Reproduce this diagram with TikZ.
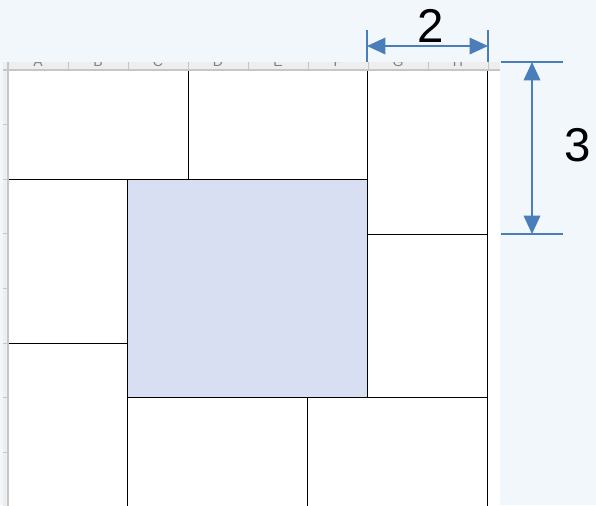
\documentclass[tikz,border=0pt]{standalone}
\usepackage{fontspec}
\setmainfont{Liberation Sans}
\usetikzlibrary{arrows.meta}
\definecolor{pagebg}{HTML}{F2F7FC}
\definecolor{tilefill}{HTML}{D9DFF2}
\definecolor{dimblue}{HTML}{4A7EBB}
\definecolor{headgrey}{HTML}{EEEEEE}
\definecolor{gridgrey}{HTML}{C6C6C6}
\begin{document}
\begin{tikzpicture}[x=0.02cm, y=-0.02cm,
  tile/.style={draw=black, line width=0.45pt},
  dimline/.style={color=dimblue, line width=0.8pt},
  dimarrow/.style={dimline, {Triangle[length=10.5pt,width=9.5pt]}-{Triangle[length=10.5pt,width=9.5pt]}},
  dimlabel/.style={font=\fontsize{27}{30}\selectfont, inner sep=0pt},
  colletter/.style={font=\fontsize{8}{9}\selectfont, text=gray, anchor=base, inner sep=0pt}]
\clip (0,0) rectangle (596,505);
\fill[pagebg] (0,0) rectangle (596,505);
\fill[white] (3,62) rectangle (500,510);
% tiles
\draw[tile] (8,70) rectangle (188,179);
\draw[tile] (188,70) rectangle (367,179);
\draw[tile] (367,70) rectangle (487,234);
\draw[tile] (8,179) rectangle (127,343);
\draw[tile] (8,343) rectangle (127,510);
\draw[tile, fill=tilefill] (127,179) rectangle (367,397);
\draw[tile] (367,234) rectangle (487,397);
\draw[tile] (127,397) rectangle (307,510);
\draw[tile] (307,397) rectangle (487,510);
% sheet headers
\fill[headgrey] (3,62) rectangle (500,70);
\fill[headgrey] (3,62) rectangle (8,510);
\begin{scope}
  \clip (8,62) rectangle (500,70);
  \foreach \c [count=\i] in {A,B,C,D,E,F,G,H}
    \node[colletter] at (8+60*\i-30,66) {\c};
\end{scope}
\foreach \i in {1,...,8}
  \draw[gridgrey, line width=0.4pt] (8+60*\i,62) -- (8+60*\i,70);
\foreach \k in {1,...,8}
  \draw[gridgrey, line width=0.4pt] (3,70+54.6*\k) -- (8,70+54.6*\k);
\draw[gridgrey, line width=0.6pt] (3,70) -- (500,70);
\draw[gridgrey, line width=0.6pt] (8,62) -- (8,510);
% width 2
\coordinate (wa1) at (367,30);
\coordinate (wa2) at (367,62);
\coordinate (wb1) at (488,30);
\coordinate (wb2) at (488,62);
\coordinate (wl) at (367,46);
\coordinate (wr) at (488,46);
\draw [dimline] (wa1) -- (wa2);
\draw [dimline] (wb1) -- (wb2);
\draw [dimarrow] (wl) -- (wr);
\node[dimlabel] (two) at (431,26) {2};
% height 3
\coordinate (ha1) at (501,62);
\coordinate (ha2) at (563,62);
\coordinate (hb1) at (501,234);
\coordinate (hb2) at (563,234);
\coordinate (ht) at (532,62);
\coordinate (hbot) at (532,234);
\draw [dimline] (ha1) -- (ha2);
\draw [dimline] (hb1) -- (hb2);
\draw [dimarrow] (ht) -- (hbot);
\node[dimlabel] (three) at (578,145) {3};
\end{tikzpicture}
\end{document}
